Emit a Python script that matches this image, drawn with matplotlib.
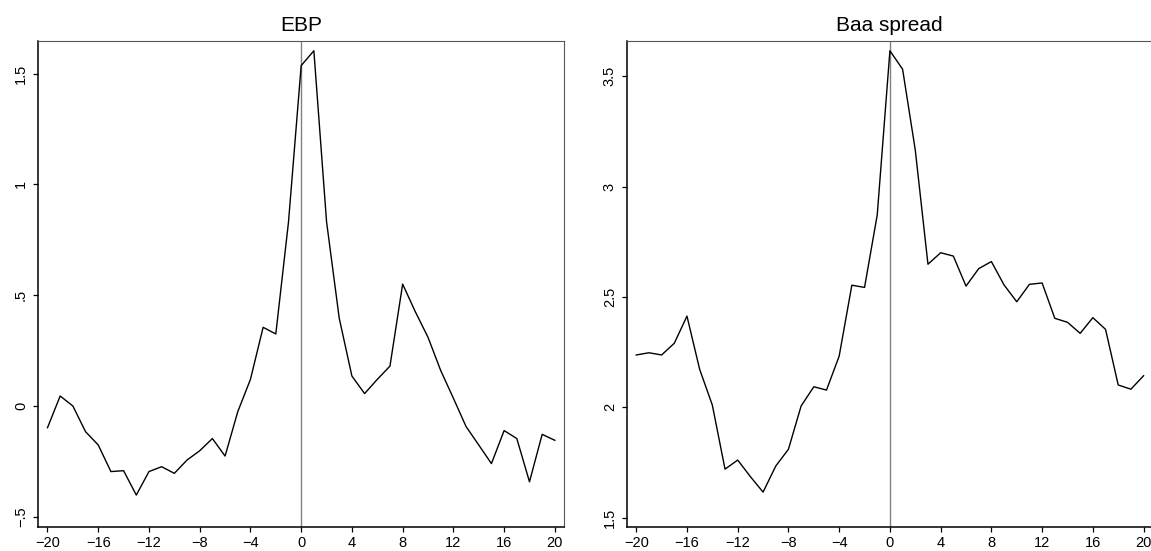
import numpy as np
import matplotlib
matplotlib.use("Agg")
import matplotlib.pyplot as plt

plt.rcParams['font.family'] = ['Liberation Sans', 'DejaVu Sans']

# horizon (months around event)
horizon = list(range(-20, 21))

ebp = [-0.098, 0.045, 0.000, -0.116, -0.176, -0.296, -0.292, -0.402, -0.296, -0.274,
       -0.304, -0.244, -0.202, -0.147, -0.226, -0.026, 0.120, 0.355, 0.325, 0.830,
       1.536, 1.603, 0.832, 0.396, 0.135, 0.056, 0.120, 0.180, 0.550, 0.425,
       0.310, 0.160, 0.035, -0.093, -0.176, -0.260, -0.111, -0.147, -0.342, -0.128,
       -0.155]

baa = [2.237, 2.247, 2.237, 2.290, 2.413, 2.172, 2.010, 1.720, 1.761, 1.686,
       1.616, 1.734, 1.810, 2.006, 2.093, 2.078, 2.232, 2.553, 2.543, 2.871,
       3.615, 3.531, 3.165, 2.648, 2.700, 2.685, 2.549, 2.628, 2.660, 2.554,
       2.478, 2.557, 2.563, 2.403, 2.385, 2.335, 2.406, 2.353, 2.101, 2.082,
       2.143]

x_ticks = [-20, -16, -12, -8, -4, 0, 4, 8, 12, 16, 20]
ebp_ticks = [-0.5, 0, 0.5, 1, 1.5]
ebp_labels = ['\u2212.5', '0', '.5', '1', '1.5']
baa_ticks = [1.5, 2, 2.5, 3, 3.5]
baa_labels = ['1.5', '2', '2.5', '3', '3.5']

fig = plt.figure(figsize=(11.51, 5.51), dpi=100)
ax1 = fig.add_axes([0.0330, 0.0436, 0.4570, 0.8820])
ax2 = fig.add_axes([0.5445, 0.0436, 0.4570, 0.8820])


def style(ax, y, ticks, labels, ylim, title):
    ax.plot(horizon, y, color='black', lw=1.0, zorder=3)
    ax.axvline(0, color='#808080', lw=1.0, zorder=2)
    ax.set_xlim(-20.75, 20.72)
    ax.set_ylim(*ylim)
    ax.set_xticks(x_ticks)
    ax.set_xticklabels([str(v).replace('-', '\u2212') for v in x_ticks])
    ax.set_yticks(ticks)
    ax.set_yticklabels(labels, rotation=90, va='center')
    ax.tick_params(axis='both', length=3.6, width=0.9, labelsize=10.5, color='black')
    ax.tick_params(axis='x', pad=3)
    ax.tick_params(axis='y', pad=3.5)
    for s in ['left', 'bottom']:
        ax.spines[s].set_color('black')
        ax.spines[s].set_linewidth(1.1)
    for s in ['top', 'right']:
        ax.spines[s].set_color('#555555')
        ax.spines[s].set_linewidth(0.8)
    ax.set_title(title, fontsize=15, pad=7)


style(ax1, ebp, ebp_ticks, ebp_labels, (-0.546, 1.647), 'EBP')
style(ax2, baa, baa_ticks, baa_labels, (1.458, 3.659), 'Baa spread')

fig.savefig('out.png', dpi=100)
